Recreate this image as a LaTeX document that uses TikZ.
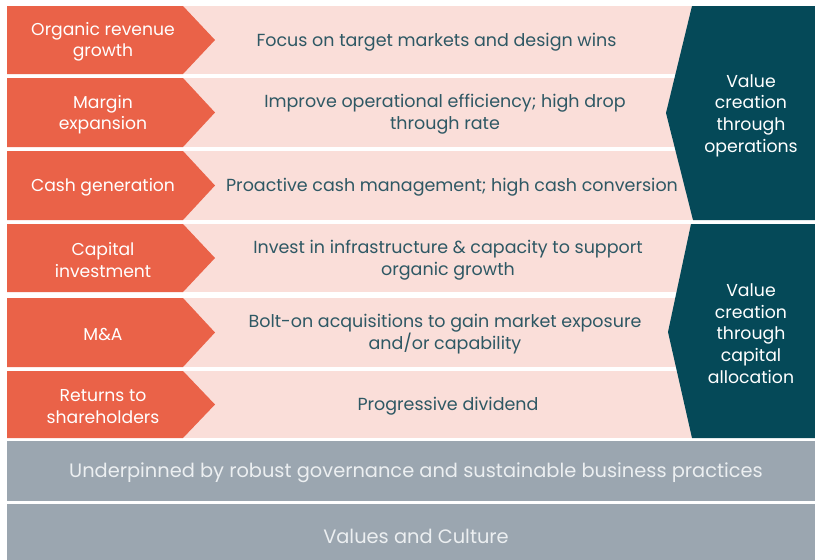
\documentclass[tikz,border=0pt]{standalone}
\usepackage{fontspec}
\setmainfont{Poppins}
\definecolor{orng}{RGB}{234,98,72}
\definecolor{pnk}{RGB}{250,222,217}
\definecolor{dteal}{RGB}{5,73,88}
\definecolor{tealtxt}{RGB}{46,88,100}
\definecolor{gry}{RGB}{155,166,176}
\definecolor{grytxt}{RGB}{236,239,241}
\begin{document}
\begin{tikzpicture}[x=1pt,y=-1pt,
  lbl/.style={text=white,align=center,font=\fontsize{17.2}{21.5}\selectfont},
  mid/.style={text=tealtxt,align=center,font=\fontsize{17.5}{22}\selectfont},
  side/.style={text=white,align=center,font=\fontsize{17.3}{21.6}\selectfont},
  base/.style={text=grytxt,align=center,font=\fontsize{19.4}{23}\selectfont}]
\useasboundingbox (0,0) rectangle (815,560);
\fill[white] (0,0) rectangle (815,560);
% rows
\foreach \t/\b in {6/74,78/147,151/220,224/292,298/367,371/438}{
  \fill[pnk] (7,\t) rectangle (700,\b);
  \fill[orng] (7,\t) -- (183,\t) -- (215,{(\t+\b)/2}) -- (183,\b) -- (7,\b) -- cycle;
}
% dark chevrons
\fill[dteal] (692,6) -- (815,6) -- (815,220) -- (693,220) -- (666,113) -- cycle;
\fill[dteal] (691,224) -- (815,224) -- (815,438) -- (692,438) -- (668,332) -- cycle;
% gray bars
\fill[gry] (7,441) rectangle (815,501);
\fill[gry] (7,504) rectangle (815,560);
% labels
\node[lbl] (l1) at (103,42) {Organic revenue\\growth};
\node[lbl] (l2) at (103,114.5) {Margin\\expansion};
\node[lbl] (l3) at (103,187.5) {Cash generation};
\node[lbl] (l4) at (103,260) {Capital\\investment};
\node[lbl] (l5) at (103,334.5) {M\&A};
\node[lbl] (l6) at (103,406.5) {Returns to\\shareholders};
\node[mid] (m1) at (436.5,42.5) {Focus on target markets and design wins};
\node[mid] (m2) at (445,114.5) {Improve operational efficiency; high drop\\through rate};
\node[mid] (m3) at (452,187.5) {Proactive cash management; high cash conversion};
\node[mid] (m4) at (448,260) {Invest in infrastructure \& capacity to support\\organic growth};
\node[mid] (m5) at (445,334) {Bolt-on acquisitions to gain market exposure\\and/or capability};
\node[mid] (m6) at (448,406.5) {Progressive dividend};
\node[side] (s1) at (751,115.5) {Value\\creation\\through\\operations};
\node[side] (s2) at (751,333.5) {Value\\creation\\through\\capital\\allocation};
\node[base] (b1) at (416,473) {Underpinned by robust governance and sustainable business practices};
\node[base] (b2) at (416,536.5) {Values and Culture};
\end{tikzpicture}
\end{document}
